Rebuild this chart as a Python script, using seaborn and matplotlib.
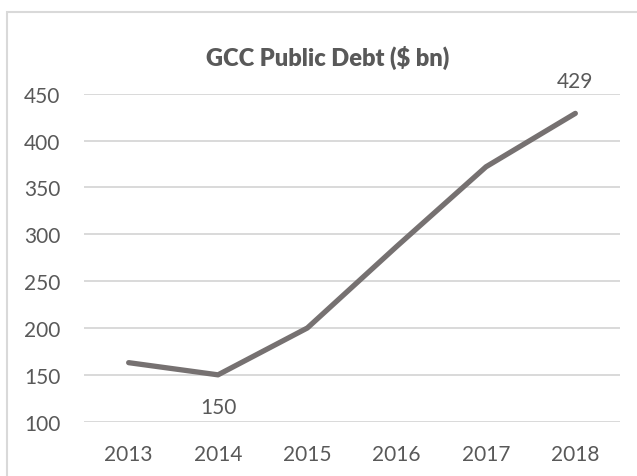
import matplotlib
matplotlib.use("Agg")
import matplotlib.pyplot as plt
from matplotlib.patches import Rectangle
import seaborn as sns
import pandas as pd

years = ["2013", "2014", "2015", "2016", "2017", "2018"]
debt = [163, 150, 200, 287, 372, 429]
y_ticks = [100, 150, 200, 250, 300, 350, 400, 450]
labelled = {"2014": ("below", 150), "2018": ("above", 429)}

sns.set_style("white")
plt.rcParams["font.family"] = ["Lato", "DejaVu Sans"]

text_color = "#595959"
line_color = "#767171"
grid_color = "#D9D9D9"

fig = plt.figure(figsize=(6.37, 4.77), dpi=100)
ax = fig.add_axes([84 / 637, 1 - 422.7 / 477, (620 - 84) / 637, (422.7 - 94.7) / 477])

# chart frame (light border, clipped at right and bottom)
fig.patches.append(Rectangle((7 / 637, -0.1), 1.2, (477 - 13) / 477 + 0.1,
                             transform=fig.transFigure, fill=False,
                             edgecolor=grid_color, linewidth=1.5))

df = pd.DataFrame({"year": years, "debt": debt})
sns.lineplot(data=df, x="year", y="debt", ax=ax, color=line_color,
             linewidth=3.8, solid_capstyle="round", solid_joinstyle="round",
             sort=False)

ax.set_xlim(-0.5, len(years) - 0.5)
ax.set_ylim(y_ticks[0], y_ticks[-1])
ax.set_yticks(y_ticks)
ax.yaxis.grid(True, color=grid_color, linewidth=1.4)
ax.set_axisbelow(True)
for s in ax.spines.values():
    s.set_visible(False)
ax.tick_params(axis="both", length=0, labelsize=15, colors=text_color)
ax.tick_params(axis="y", pad=17)
ax.tick_params(axis="x", pad=16)
ax.set_xlabel("")
ax.set_ylabel("")

for yr, (where, val) in labelled.items():
    xi = years.index(yr)
    off = -23 if where == "below" else 23
    ax.annotate(f"{val}", (xi, val), xytext=(0, off), textcoords="offset points",
                ha="center", va="center", fontsize=15, color=text_color)

fig.text(328 / 637, 1 - 58 / 477, "GCC Public Debt ($ bn)", ha="center", va="center",
         fontsize=17, fontweight="heavy", color=text_color)

fig.savefig("out.png", dpi=100, facecolor="white")
